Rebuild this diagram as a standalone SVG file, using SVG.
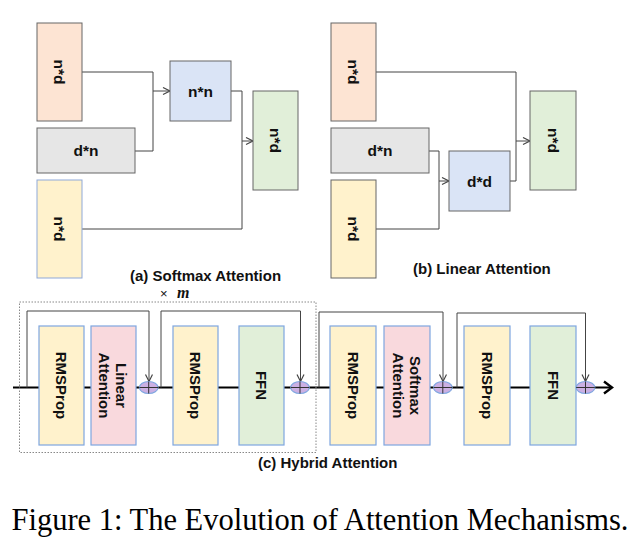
<svg xmlns="http://www.w3.org/2000/svg" width="639" height="551" viewBox="0 0 639 551">
<style>
.box{stroke:#666;stroke-width:1}
.bb{stroke:#7ea6e0;stroke-width:1.2}
.or{fill:#fde4d3}.gr{fill:#e6e6e6}.ye{fill:#fff2cc}.bl{fill:#dae4f6}.gn{fill:#e1efd9}.pk{fill:#f9d9dd}
.lbl{font-family:"Liberation Sans",Arial,sans-serif;font-weight:bold;font-size:15.5px;fill:#111;text-anchor:middle;dominant-baseline:central}
.lbl2{font-family:"Liberation Sans",Arial,sans-serif;font-weight:bold;font-size:15px;fill:#111;text-anchor:middle;dominant-baseline:central}
.cap{font-family:"Liberation Sans",Arial,sans-serif;font-weight:bold;font-size:15px;fill:#111}
.con{fill:none;stroke:#444;stroke-width:1}
.main{fill:none;stroke:#000;stroke-width:2.2}
.add{fill:#cbb0e3;stroke:#7ea6e0;stroke-width:1.2}
.plus{stroke:#333;stroke-width:1}
</style>
<defs>
<marker id="arr" markerUnits="userSpaceOnUse" markerWidth="10" markerHeight="10" refX="8" refY="4" orient="auto">
<path d="M1,0.5 L8,4 L1,7.5" fill="none" stroke="#444" stroke-width="1.2"/>
</marker>
</defs>

<g id="connectors">
<path class="con" d="M82,72 H153 V91 H170" marker-end="url(#arr)"/>
<path class="con" d="M135,151 H153 V91"/>
<path class="con" d="M231,91 H242 V141 H253" marker-end="url(#arr)"/>
<path class="con" d="M82,229 H242 V141"/>
<path class="con" d="M375,72 H516 V141 H530" marker-end="url(#arr)"/>
<path class="con" d="M510,181 H516 V141"/>
<path class="con" d="M429,151 H439 V181 H449" marker-end="url(#arr)"/>
<path class="con" d="M375,229 H439 V181"/>
<path class="main" d="M13,387.5 H610"/>
<polyline points="604,381.5 612,387.5 604,393.5" fill="none" stroke="#000" stroke-width="2.4"/>
<path class="con" d="M27,387.5 V311 H149 V381.5" marker-end="url(#arr)"/>
<path class="con" d="M161,387.5 V311 H300.5 V381.5" marker-end="url(#arr)"/>
<path class="con" d="M319,387.5 V312 H443 V381.5" marker-end="url(#arr)"/>
<path class="con" d="M457,387.5 V313 H585.5 V381.5" marker-end="url(#arr)"/>
</g>

<g id="a-q"><rect class="box or" x="37" y="23" width="45" height="98"/><text class="lbl" transform="translate(59.5,72) rotate(90)">n*d</text></g>
<g id="a-kt"><rect class="box gr" x="37" y="128" width="98" height="45"/><text class="lbl" x="86" y="150.5">d*n</text></g>
<g id="a-v"><rect class="ye" x="37" y="180" width="45" height="98" stroke="#8fa9d9" stroke-width="1"/><text class="lbl" transform="translate(59.5,229) rotate(90)">n*d</text></g>
<g id="a-nn"><rect class="box bl" x="170" y="61" width="61" height="60"/><text class="lbl" x="200.5" y="91">n*n</text></g>
<g id="a-out"><rect class="box gn" x="253" y="91" width="45" height="99"/><text class="lbl" transform="translate(275.5,140.5) rotate(90)">n*d</text></g>
<text class="cap" x="130" y="281">(a) Softmax Attention</text>

<g id="b-q"><rect class="box or" x="331" y="23" width="45" height="98"/><text class="lbl" transform="translate(353.5,72) rotate(90)">n*d</text></g>
<g id="b-kt"><rect class="box gr" x="331" y="128" width="98" height="45"/><text class="lbl" x="380" y="150.5">d*n</text></g>
<g id="b-v"><rect class="box ye" x="331" y="180" width="45" height="98"/><text class="lbl" transform="translate(353.5,229) rotate(90)">n*d</text></g>
<g id="b-dd"><rect class="box bl" x="449" y="151" width="61" height="60"/><text class="lbl" x="479.5" y="181">d*d</text></g>
<g id="b-out"><rect class="box gn" x="530" y="91" width="46" height="99"/><text class="lbl" transform="translate(553,140.5) rotate(90)">n*d</text></g>
<text class="cap" x="413" y="273.5">(b) Linear Attention</text>

<rect id="repeat" x="19.5" y="302" width="296.5" height="150.5" fill="none" stroke="#888" stroke-width="1" stroke-dasharray="1.5,1.5"/>
<text x="160" y="297.5" font-family="Liberation Sans,Arial,sans-serif" font-size="13" fill="#111">×</text>
<text x="177" y="297.5" font-family="Liberation Serif,serif" font-weight="bold" font-style="italic" font-size="16" fill="#111">m</text>

<g id="c-rms1"><rect class="bb ye" x="39" y="326" width="45" height="119"/><text class="lbl2" transform="translate(61.5,385.5) rotate(90)">RMSProp</text></g>
<g id="c-lin"><rect class="bb pk" x="91" y="326" width="45" height="119"/><text class="lbl2" transform="translate(113.5,385.5) rotate(90)"><tspan x="0" y="-8.5">Linear</tspan><tspan x="0" y="8.5">Attention</tspan></text></g>
<g id="c-add1"><ellipse class="add" cx="148.7" cy="387.5" rx="9.3" ry="6"/><path class="plus" d="M139.4,387.5 H158 M148.7,381.5 V393.5"/></g>
<g id="c-rms2"><rect class="bb ye" x="173" y="326" width="45" height="119"/><text class="lbl2" transform="translate(195.5,385.5) rotate(90)">RMSProp</text></g>
<g id="c-ffn1"><rect class="bb gn" x="239" y="326" width="45" height="119"/><text class="lbl2" transform="translate(261.5,385.5) rotate(90)">FFN</text></g>
<g id="c-add2"><ellipse class="add" cx="300" cy="387.5" rx="9.3" ry="6"/><path class="plus" d="M290.7,387.5 H309.3 M300,381.5 V393.5"/></g>
<g id="c-rms3"><rect class="bb ye" x="330" y="326" width="46" height="119"/><text class="lbl2" transform="translate(353,385.5) rotate(90)">RMSProp</text></g>
<g id="c-soft"><rect class="bb pk" x="384" y="326" width="46" height="119"/><text class="lbl2" transform="translate(407,385.5) rotate(90)"><tspan x="0" y="-8.5">Softmax</tspan><tspan x="0" y="8.5">Attention</tspan></text></g>
<g id="c-add3"><ellipse class="add" cx="442.8" cy="387.5" rx="9.3" ry="6"/><path class="plus" d="M433.5,387.5 H452.1 M442.8,381.5 V393.5"/></g>
<g id="c-rms4"><rect class="bb ye" x="464" y="326" width="46" height="119"/><text class="lbl2" transform="translate(487,385.5) rotate(90)">RMSProp</text></g>
<g id="c-ffn2"><rect class="bb gn" x="530" y="326" width="46" height="119"/><text class="lbl2" transform="translate(553,385.5) rotate(90)">FFN</text></g>
<g id="c-add4"><ellipse class="add" cx="585.5" cy="387.5" rx="9.3" ry="6"/><path class="plus" d="M576.2,387.5 H594.8 M585.5,381.5 V393.5"/></g>
<text class="cap" x="258" y="468">(c) Hybrid Attention</text>

<text x="320" y="530" text-anchor="middle" font-family="Liberation Serif,Times New Roman,serif" font-size="30.5" fill="#000">Figure 1: The Evolution of Attention Mechanisms.</text>
</svg>
